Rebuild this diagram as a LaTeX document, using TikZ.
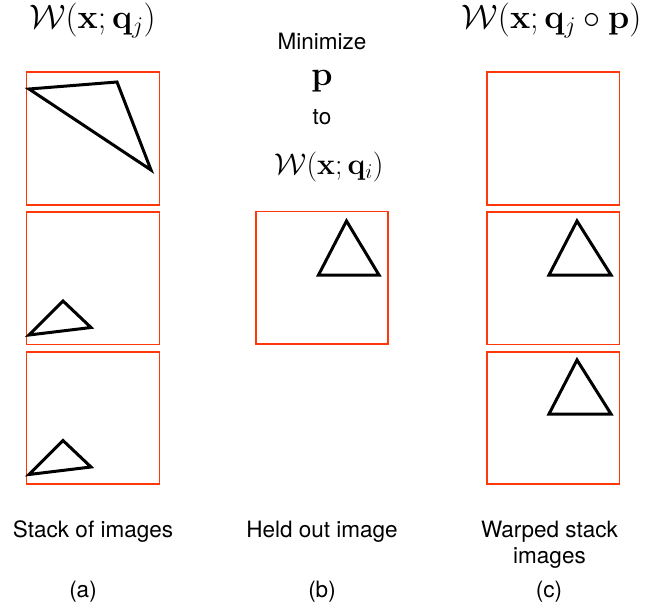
\RequirePackage{fix-cm}
\documentclass[tikz,border=0pt]{standalone}
\usepackage[no-math]{fontspec}
\setmainfont{TeX Gyre Heros}
\definecolor{boxred}{RGB}{255,55,10}
\begin{document}
\begin{tikzpicture}[x=1pt,y=-1pt,
  frame/.style={draw=boxred,line width=1.3pt},
  tri/.style={draw=black,line width=3pt,line join=miter},
  lbl/.style={font=\fontsize{22.5}{27}\selectfont,inner sep=0pt,anchor=base},
  mth/.style={font=\fontsize{#1}{#1}\selectfont,inner sep=0pt,anchor=base}]
\useasboundingbox (0,0) rectangle (662,605);

% frames
\draw[frame] (26.5,72) rectangle (159.5,205);
\draw[frame] (26.5,212) rectangle (159.5,344.5);
\draw[frame] (26.5,352) rectangle (159.5,484);
\draw[frame] (256,211.5) rectangle (388,344);
\draw[frame] (487,72) rectangle (619.5,205);
\draw[frame] (487,212) rectangle (619.5,344.5);
\draw[frame] (487,352) rectangle (619.5,484);

% triangles
\draw[tri] (29,89) -- (117,82) -- (151,170) -- cycle;
\draw[tri] (29,335) -- (63,301) -- (91,327.5) -- cycle;
\draw[tri] (29,474.5) -- (63,440.5) -- (91,467) -- cycle;
\draw[tri] (318.5,275) -- (346.5,221) -- (379,275) -- cycle;
\draw[tri] (549,275) -- (577,221) -- (611,275) -- cycle;
\draw[tri] (549,414) -- (577,360) -- (611,414) -- cycle;

% titles
\node[mth=34] (tl) at (92.5,28.5) {$\mathcal{W}(\mathbf{x};\mathbf{q}_j)$};
\node[mth=34] (tr) at (551.5,28.5) {$\mathcal{W}(\mathbf{x};\mathbf{q}_j\circ\mathbf{p})$};
\node[lbl] (mini) at (322,49) {Minimize};
\node[mth=34] (pp) at (322,85) {$\mathbf{p}$};
\node[lbl] (to) at (322,124.3) {to};
\node[mth=30] (tm) at (329,174) {$\mathcal{W}(\mathbf{x};\mathbf{q}_i)$};

% bottom labels
\node[lbl] (la) at (93,537.5) {Stack of images};
\node[lbl] (lb) at (322,537.5) {Held out image};
\node[lbl] (lc1) at (549.5,537) {Warped stack};
\node[lbl] (lc2) at (549.5,563.5) {images};
\node[lbl] (ca) at (83,597) {(a)};
\node[lbl] (cb) at (322,597) {(b)};
\node[lbl] (cc) at (549,597) {(c)};
\end{tikzpicture}
\end{document}
